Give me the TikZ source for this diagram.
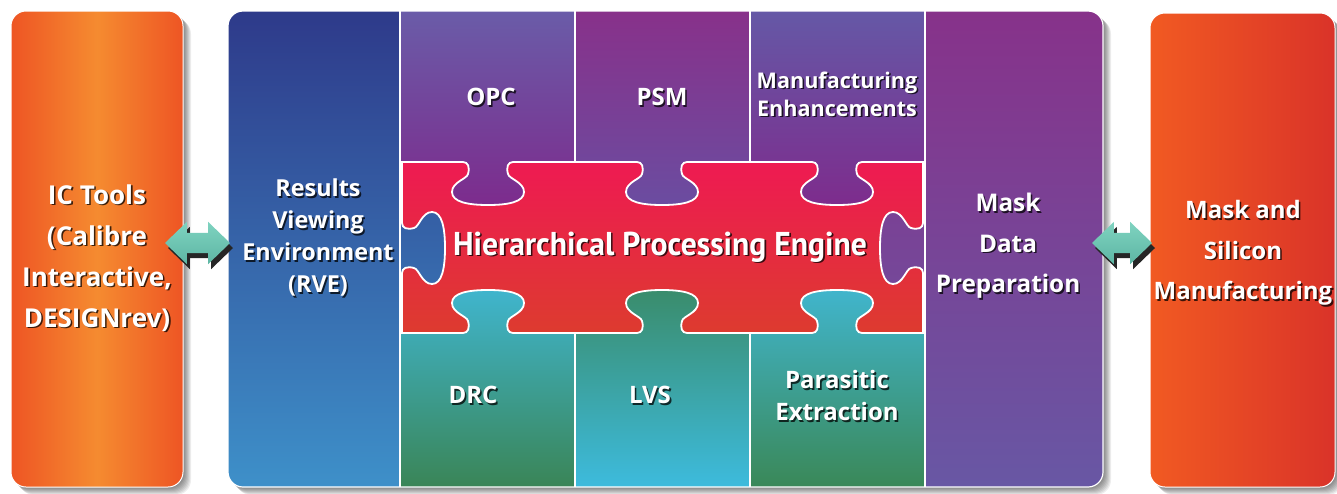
\documentclass[tikz,border=0pt]{standalone}
\usepackage{fontspec}
\setmainfont{Open Sans}
\newfontfamily\titlefont{PT Sans}
\usepackage{graphicx}
\usetikzlibrary{calc,shapes.arrows}

\definecolor{orE}{HTML}{EE5524}
\definecolor{orC}{HTML}{F58B30}
\definecolor{orL}{HTML}{F15A22}
\definecolor{orR}{HTML}{DA3329}
\definecolor{rveT}{HTML}{2E3A8A}
\definecolor{rveM}{HTML}{1F4E9E}
\definecolor{rveB}{HTML}{3E90C9}
\definecolor{opcT}{HTML}{6A5CA8}
\definecolor{opcB}{HTML}{7D2A8C}
\definecolor{psmT}{HTML}{88318A}
\definecolor{psmM}{HTML}{7C2E8E}
\definecolor{psmB}{HTML}{6A4DA1}
\definecolor{mfgT}{HTML}{6558A6}
\definecolor{mfgB}{HTML}{7E2B8C}
\definecolor{mdpT}{HTML}{87328A}
\definecolor{mdpM}{HTML}{7A2F8F}
\definecolor{mdpB}{HTML}{6857A4}
\definecolor{redT}{HTML}{EE1A52}
\definecolor{redB}{HTML}{DD3B2F}
\definecolor{drcT}{HTML}{40B6D0}
\definecolor{drcB}{HTML}{3A8557}
\definecolor{lvsT}{HTML}{3A8B69}
\definecolor{lvsB}{HTML}{3DBBDD}
\definecolor{pexT}{HTML}{41B6CF}
\definecolor{pexB}{HTML}{3A8858}
\definecolor{arT}{HTML}{7FD3C0}
\definecolor{arB}{HTML}{5DB6A4}

% puzzle-knob indentations (cx or x0, y0 or cy)
\newcommand\knobT[2]{-- (#1-25,#2) .. controls (#1-20,#2) and (#1-18,#2+5) .. (#1-20,#2+12)
 .. controls (#1-21,#2+17) and (#1-36,#2+20) .. (#1-36,#2+30)
 .. controls (#1-36,#2+40) and (#1-20,#2+43) .. (#1,#2+43)
 .. controls (#1+20,#2+43) and (#1+36,#2+40) .. (#1+36,#2+30)
 .. controls (#1+36,#2+20) and (#1+21,#2+17) .. (#1+20,#2+12)
 .. controls (#1+18,#2+5) and (#1+20,#2) .. (#1+25,#2)}
\newcommand\knobB[2]{-- (#1+25,#2) .. controls (#1+20,#2) and (#1+18,#2-5) .. (#1+20,#2-12)
 .. controls (#1+21,#2-17) and (#1+36,#2-20) .. (#1+36,#2-30)
 .. controls (#1+36,#2-40) and (#1+20,#2-43) .. (#1,#2-43)
 .. controls (#1-20,#2-43) and (#1-36,#2-40) .. (#1-36,#2-30)
 .. controls (#1-36,#2-20) and (#1-21,#2-17) .. (#1-20,#2-12)
 .. controls (#1-18,#2-5) and (#1-20,#2) .. (#1-25,#2)}
\newcommand\knobR[2]{-- (#1,#2-25) .. controls (#1,#2-20) and (#1-5,#2-18) .. (#1-12,#2-20)
 .. controls (#1-17,#2-21) and (#1-20,#2-36) .. (#1-30,#2-36)
 .. controls (#1-40,#2-36) and (#1-43,#2-20) .. (#1-43,#2)
 .. controls (#1-43,#2+20) and (#1-40,#2+36) .. (#1-30,#2+36)
 .. controls (#1-20,#2+36) and (#1-17,#2+21) .. (#1-12,#2+20)
 .. controls (#1-5,#2+18) and (#1,#2+20) .. (#1,#2+25)}
\newcommand\knobL[2]{-- (#1,#2+25) .. controls (#1,#2+20) and (#1+5,#2+18) .. (#1+12,#2+20)
 .. controls (#1+17,#2+21) and (#1+20,#2+36) .. (#1+30,#2+36)
 .. controls (#1+40,#2+36) and (#1+43,#2+20) .. (#1+43,#2)
 .. controls (#1+43,#2-20) and (#1+40,#2-36) .. (#1+30,#2-36)
 .. controls (#1+20,#2-36) and (#1+17,#2-21) .. (#1+12,#2-20)
 .. controls (#1+5,#2-18) and (#1,#2-20) .. (#1,#2-25)}

\newcommand\shlabel[4]{%
  \node[lblsh,font=#3] at ($(#2)+(1.6,1.6)$) {#4};
  \node[lbl,font=#3] (#1) at (#2) {#4};}

\tikzset{
  lbl/.style={text=white, align=center, inner sep=0pt},
  lblsh/.style={text=black, opacity=0.75, align=center, inner sep=0pt},
  arrowbase/.style={double arrow, double arrow tip angle=88, double arrow head extend=11pt,
    minimum height=#1, minimum width=0pt, inner sep=10pt, draw=none},
  sepline/.style={white, line width=2pt},
  boxsh/.style={black, opacity=0.07, rounded corners=15pt},
}

\begin{document}
\begin{tikzpicture}[x=1pt,y=-1pt]
\useasboundingbox (0,0) rectangle (1337,493);
\fill[white] (0,0) rectangle (1337,493);

% soft shadows
\foreach \d in {1,...,8}{
  \fill[boxsh] (11+\d,11+\d) rectangle (183+\d,487+\d);
  \fill[boxsh] (228+\d,11+\d) rectangle (1103+\d,487+\d);
  \fill[boxsh] (1150+\d,13+\d) rectangle (1335+\d,487+\d);
}

% side boxes
\node[rounded corners=15pt, minimum width=172pt, minimum height=476pt, inner sep=0pt,
  left color=orE, right color=orE, middle color=orC, draw=white, line width=1pt]
  (icbox) at (97,249) {};
\node[rounded corners=15pt, minimum width=185pt, minimum height=474pt, inner sep=0pt,
  left color=orL, right color=orR, draw=white, line width=1pt]
  (msmbox) at (1242.5,250) {};

% main panel
\begin{scope}
\clip[rounded corners=15pt] (228,11) rectangle (1103,487);
\path[top color=rveT, middle color=rveM, bottom color=rveB] (228,11) rectangle (450,487);
\path[top color=mdpT, middle color=mdpM, bottom color=mdpB] (875,11) rectangle (1103,487);
\path[top color=opcT, bottom color=opcB] (401,11) rectangle (575,210);
\path[top color=psmT, middle color=psmM, bottom color=psmB] (575,11) rectangle (750,210);
\path[top color=mfgT, bottom color=mfgB] (750,11) rectangle (924,210);
\path[top color=drcT, bottom color=drcB] (401,285) rectangle (575,487);
\path[top color=lvsT, bottom color=lvsB] (575,285) rectangle (750,487);
\path[top color=pexT, bottom color=pexB] (750,285) rectangle (924,487);
\draw[sepline] (400,11) -- (400,487);
\draw[sepline] (924.5,11) -- (924.5,487);
\draw[sepline] (575,11) -- (575,165);
\draw[sepline] (575,330) -- (575,487);
\draw[sepline] (750,11) -- (750,165);
\draw[sepline] (750,330) -- (750,487);
\path[top color=redT, bottom color=redB, draw=white, line width=1.8pt]
  (402,162) \knobT{488}{162} \knobT{662}{162} \knobT{837}{162} -- (923,162)
  \knobR{923}{248} -- (923,333)
  \knobB{837}{333} \knobB{662}{333} \knobB{488}{333} -- (402,333)
  \knobL{402}{248} -- cycle;
\end{scope}
\draw[white, line width=1.2pt, rounded corners=15pt] (228,11) rectangle (1103,487);

% arrows
\node[arrowbase=65pt, fill=black!85] at (200.5,248) {};
\node[arrowbase=65pt, top color=arT, bottom color=arB] (arrL) at (197.5,243) {};
\node[arrowbase=60pt, fill=black!85] at (1125,248) {};
\node[arrowbase=60pt, top color=arT, bottom color=arB] (arrR) at (1122,243) {};

% labels
\shlabel{ictools}{97,258}{\fontsize{26}{41}\selectfont\bfseries}{IC Tools\\(Calibre\\Interactive,\\DESIGNrev)}
\shlabel{rve}{318,237.5}{\fontsize{23.4}{32}\selectfont\bfseries}{Results\\Viewing\\Environment\\(RVE)}
\shlabel{opc}{491,97}{\fontsize{24}{28}\selectfont\bfseries}{OPC}
\shlabel{psm}{662,97}{\fontsize{24}{28}\selectfont\bfseries}{PSM}
\shlabel{mfg}{837,94}{\fontsize{21.6}{28}\selectfont\bfseries}{Manufacturing\\Enhancements}
\shlabel{mdp}{1008,246}{\fontsize{24.3}{40.5}\selectfont\bfseries}{Mask\\Data\\Preparation}
\shlabel{msm}{1243,253}{\fontsize{24}{40.5}\selectfont\bfseries}{Mask and\\Silicon\\Manufacturing}
\shlabel{hpe}{660,247}{\fontsize{33}{33}\selectfont\titlefont\bfseries}{\resizebox{414pt}{\height}{Hierarchical Processing Engine}}
\shlabel{drc}{473,395}{\fontsize{24}{28}\selectfont\bfseries}{DRC}
\shlabel{lvs}{650,395}{\fontsize{24}{28}\selectfont\bfseries}{LVS}
\shlabel{pex}{837,395.5}{\fontsize{24}{32}\selectfont\bfseries}{Parasitic\\Extraction}
\end{tikzpicture}
\end{document}
